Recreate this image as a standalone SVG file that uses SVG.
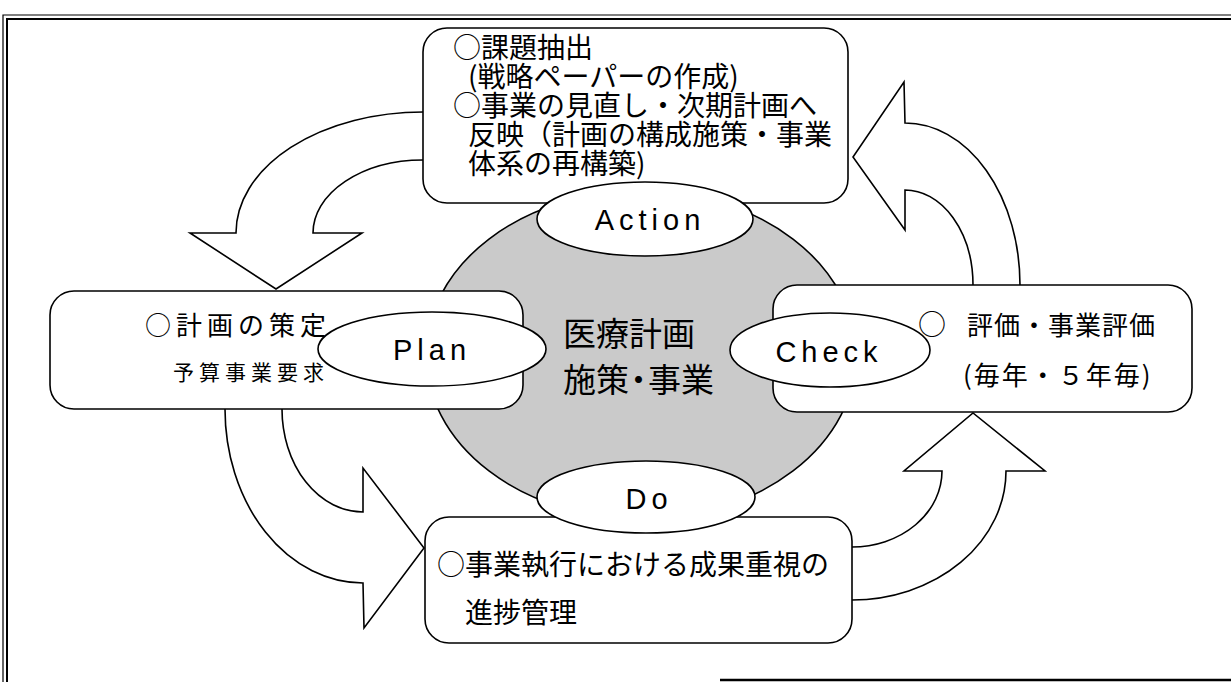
<svg xmlns="http://www.w3.org/2000/svg" width="1231" height="682" viewBox="0 0 1231 682">
<style>
.box{fill:#fff;stroke:#000;stroke-width:1.6}
.arrow{fill:#fff;stroke:#000;stroke-width:1.6;stroke-linejoin:miter}
.ell{fill:#fff;stroke:#000;stroke-width:1.6}
.jp{font-family:"Noto Sans CJK JP","Noto Sans CJK SC",sans-serif;fill:#000}
.en{font-family:"Liberation Sans",Arial,sans-serif;fill:#000;font-size:29px;letter-spacing:5px;text-anchor:middle}
</style>
<rect width="1231" height="682" fill="#fff"/>
<g id="frame" fill="none" stroke="#000">
<path d="M3,682 V15 H1231" stroke-width="1.2"/>
<path d="M7,682 V19 H1231" stroke-width="2"/>
<path d="M720,680 H1231" stroke-width="2.5"/>
</g>
<g id="connectors">
<path class="arrow" d="M440,112 L423,112 A187 121 0 0 0 236,233 L190,233 L276,289 L362,233 L313,233 A110 73 0 0 1 423,160 L440,160 Z"/>
<path class="arrow" d="M973,300 L973,285 A68 95 0 0 0 905,190 L905,230 L853,157 L904,82 L905,123 A115 162 0 0 1 1020,285 L1020,300 Z"/>
<path class="arrow" d="M225,395 L225,409 A138 174 0 0 0 363,583 L364,628 L424,548 L363,468 L363,512 A81 103 0 0 1 282,409 L282,395 Z"/>
<path class="arrow" d="M835,547 L852,547 A90 76 0 0 0 942,471 L904,471 L973,413 L1045,471 L1006,471 A154 129 0 0 1 852,600 L835,600 Z"/>
</g>
<g id="center">
<ellipse cx="641" cy="355" rx="215" ry="164" fill="#cacaca" stroke="#000" stroke-width="1.6"/>
<text class="jp" x="563" y="346" font-size="33">医療計画</text>
<text class="jp" x="563" y="392" font-size="33">施策<tspan dx="-7">・</tspan><tspan dx="-7">事業</tspan></text>
</g>
<g id="action">
<rect class="box" x="423" y="28" width="425" height="175" rx="24"/>
<text class="jp" font-size="28">
<tspan x="453" y="58">○課題抽出</tspan>
<tspan x="468" y="87">(戦略ペーパーの作成)</tspan>
<tspan x="453" y="116">○事業の見直し・次期計画へ</tspan>
<tspan x="468" y="145">反映（計画の構成施策・事業</tspan>
<tspan x="468" y="174">体系の再構築)</tspan>
</text>
<ellipse class="ell" cx="645" cy="219" rx="108" ry="37"/>
<text class="en" x="650" y="230">Action</text>
</g>
<g id="plan">
<rect class="box" x="50" y="291" width="473" height="118" rx="24"/>
<text class="jp" x="145" y="335" font-size="26" letter-spacing="5">○計画の策定</text>
<text class="jp" x="173" y="380" font-size="21" letter-spacing="5">予算事業要求</text>
<ellipse class="ell" cx="432" cy="349" rx="114" ry="37"/>
<text class="en" x="432" y="360">Plan</text>
</g>
<g id="check">
<rect class="box" x="773" y="285" width="419" height="127" rx="24"/>
<text class="jp" font-size="26"><tspan x="918" y="335" font-size="28">○</tspan><tspan x="967" y="335" letter-spacing="1">評価・事業評価</tspan></text>
<text class="jp" x="963" y="385" font-size="26" letter-spacing="2">(毎年・５年毎)</text>
<ellipse class="ell" cx="830" cy="350" rx="100" ry="37"/>
<text class="en" x="829" y="362">Check</text>
</g>
<g id="do">
<rect class="box" x="425" y="517" width="427" height="126" rx="24"/>
<text class="jp" x="437" y="575" font-size="28">○事業執行における成果重視の</text>
<text class="jp" x="465" y="623" font-size="28">進捗管理</text>
<ellipse class="ell" cx="646" cy="497" rx="109" ry="36"/>
<text class="en" x="649" y="509">Do</text>
</g>
</svg>
